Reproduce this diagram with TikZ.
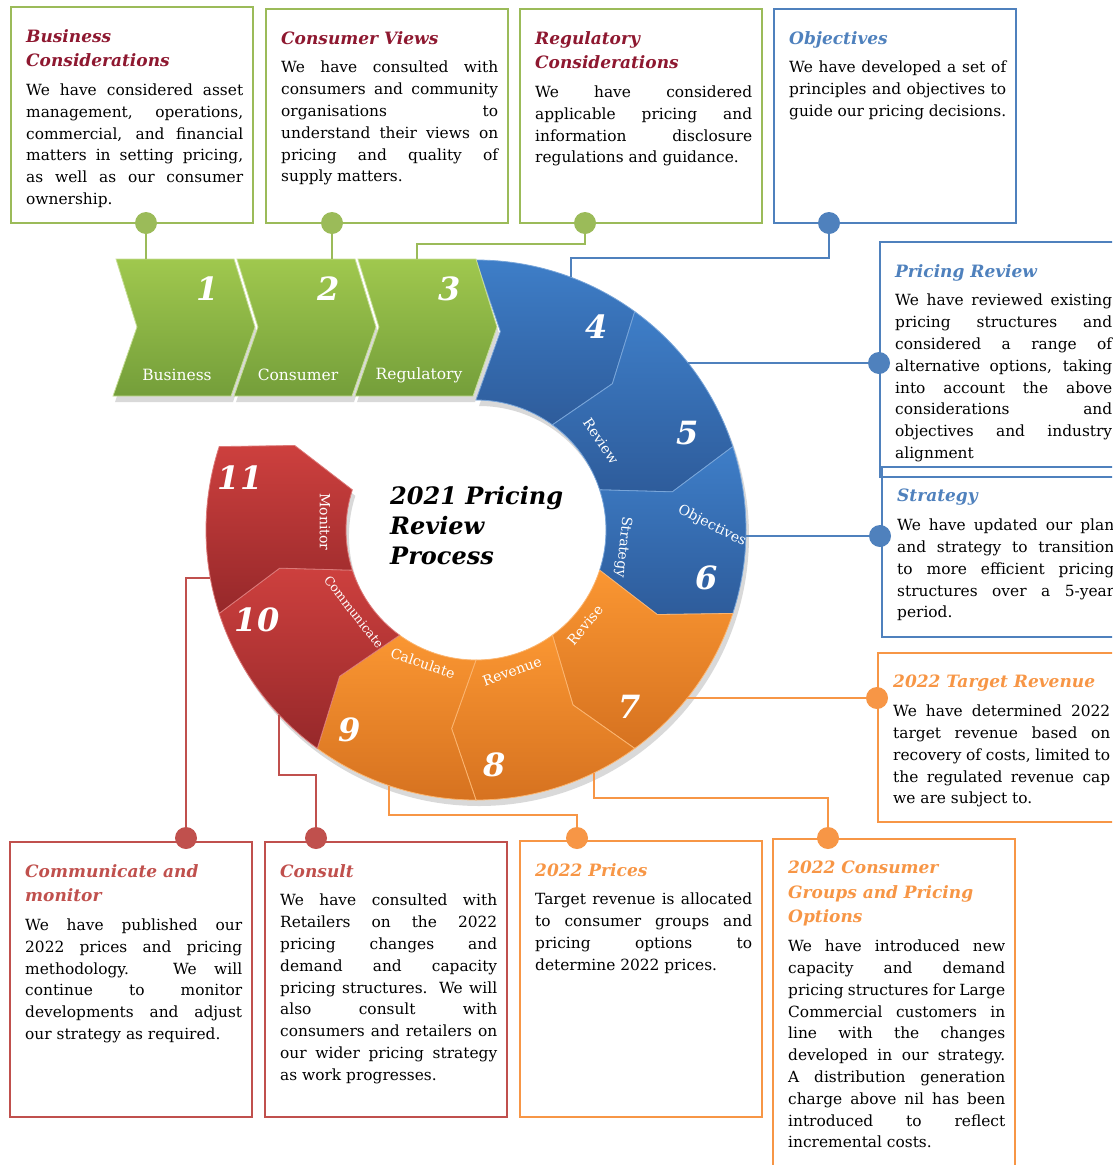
\documentclass[tikz,border=0pt]{standalone}
\usepackage{fontspec}
\setmainfont{DejaVu Serif}
\usepackage{tikz}
\usetikzlibrary{positioning,calc}

\definecolor{grnline}{RGB}{155,187,89}
\definecolor{bluline}{RGB}{79,129,189}
\definecolor{orgline}{RGB}{247,150,70}
\definecolor{redline}{RGB}{192,80,77}
\definecolor{hdred}{RGB}{142,24,48}
\definecolor{grntop}{RGB}{160,200,78}
\definecolor{grnbot}{RGB}{116,158,58}
\definecolor{blutop}{RGB}{62,126,200}
\definecolor{blubot}{RGB}{46,92,155}
\definecolor{orgtop}{RGB}{250,150,50}
\definecolor{orgbot}{RGB}{214,114,32}
\definecolor{redtop}{RGB}{205,64,62}
\definecolor{redbot}{RGB}{150,40,42}

\setlength{\parindent}{0pt}
\tolerance=10000 \hbadness=10000 \hyphenpenalty=10000
\newcommand{\bodyfont}{\fontsize{15.4}{21.8}\selectfont}
\newcommand{\headfont}{\fontsize{17}{24.5}\selectfont\bfseries\itshape}
\newcommand{\hd}[2]{{\headfont\color{#1}#2\par}\vspace{7pt}\bodyfont}

\begin{document}
\begin{tikzpicture}
  [
    x=1pt, y=-1pt,
    panel/.style   = {draw=#1, line width=2pt, anchor=north west, inner sep=0pt,
                      minimum width=242, minimum height=214},
    txt/.style     = {text width=217pt, align=justify, inner sep=0pt, font=\bodyfont},
    knob/.style    = {circle, fill=#1, minimum size=22pt, inner sep=0pt},
    wire/.style    = {draw=#1, line width=2pt},
    chevron/.style = {top color=grntop, bottom color=grnbot, draw=grntop!60!white, line width=.8pt},
    segment/.style = {line width=.8pt},
    num/.style     = {text=white, inner sep=0pt, font=\fontsize{32}{32}\selectfont\bfseries\itshape},
    chevlbl/.style = {text=white, inner sep=0pt, font=\fontsize{15.5}{15.5}\selectfont},
    seglbl/.style  = {text=white, inner sep=0pt, font=\fontsize{14}{14}\selectfont},
    title/.style   = {anchor=north west, align=left, inner sep=0pt,
                      font=\fontsize{24}{30}\selectfont\bfseries\itshape},
  ]

  \useasboundingbox (0,0) rectangle (1112,1165);
  \clip (0,0) rectangle (1112,1165);

  % the ring of steps 4 to 11
  \def\Ro{270} \def\Ri{130} \def\Rm{200} \def\tip{7}
  \begin{scope}[shift={(476,530)}]
    % soft shadow under the whole ring
    \fill[black, opacity=.15, shift={(3,6)}]
      (-90:\Ro) arc[start angle=-90, end angle=198, radius=\Ro]
      -- (205:\Rm) -- (198:\Ri)
      arc[start angle=198, end angle=-90, radius=\Ri]
      -- (-83:\Rm) -- cycle;
    \foreach \k/\ct/\cb in {4/blutop/blubot, 5/blutop/blubot, 6/blutop/blubot,
                           7/orgtop/orgbot, 8/orgtop/orgbot, 9/orgtop/orgbot,
                           10/redtop/redbot, 11/redtop/redbot}
    {
      \pgfmathsetmacro\angs{-90+36*(\k-4)}
      \pgfmathsetmacro\ange{\angs+36}
      \pgfmathsetmacro\angsp{\angs+\tip}
      \pgfmathsetmacro\angep{\ange+\tip}
      \draw[segment, top color=\ct, bottom color=\cb, draw=\ct!70!white]
        (\angs:\Ro) arc[start angle=\angs, end angle=\ange, radius=\Ro]
        -- (\angep:\Rm) -- (\ange:\Ri)
        arc[start angle=\ange, end angle=\angs, radius=\Ri]
        -- (\angsp:\Rm) -- cycle;
    }
  \end{scope}

  % chevrons for steps 1 to 3
  \foreach \n/\x/\lbl in {1/116/Business, 2/237/Consumer, 3/358/Regulatory}
  {
    \fill[black, opacity=.15] (\x+2,265) -- ++(118,0) -- ++(21,68) -- ++(-24,69)
      -- ++(-118,0) -- ++(24,-69) -- cycle;
    \draw[chevron] (\x,259) -- ++(118,0) -- ++(21,68) -- ++(-24,69)
      -- ++(-118,0) -- ++(24,-69) -- cycle;
    \node[num] (c\n num) at (\x+92,289) {\n};
    \node[chevlbl] (c\n lbl) at (\x+61,375) {\lbl};
  }

  % numbers and words on the ring
  \node[num] (n4) at (597,327) {4};
  \node[num] (n5) at (688,433) {5};
  \node[num] (n6) at (707,578) {6};
  \node[num] (n7) at (630,707) {7};
  \node[num] (n8) at (495,765) {8};
  \node[num] (n9) at (350,730) {9};
  \node[num] (n10) at (257,620) {10};
  \node[num] (n11) at (240,478) {11};
  \node[seglbl, rotate=-56] (l5) at (601,441) {Review};
  \node[seglbl, rotate=-27] (l6a) at (712,526) {Objectives};
  \node[seglbl, rotate=-96] (l6b) at (623,547) {Strategy};
  \node[seglbl, rotate=50] (l7) at (585,625) {Revise};
  \node[seglbl, rotate=20] (l8) at (512,671) {Revenue};
  \node[seglbl, rotate=-19] (l9) at (423,663) {Calculate};
  \node[seglbl, rotate=-52, font=\fontsize{12.5}{12.5}\selectfont] (l10) at (354,612) {Communicate};
  \node[seglbl, rotate=-90] (l11) at (325,522) {Monitor};

  \node[title] (ttl) at (390,486) {2021 Pricing\\Review\\Process};

  % where the connectors meet the chevrons and the ring
  \coordinate (c1top) at (146,259);
  \coordinate (c2top) at (332,259);
  \coordinate (c3top) at (417,259);
  \coordinate (s4top) at (571,277);
  \coordinate (s5pt) at (688,363);
  \coordinate (s6pt) at (745,536);
  \coordinate (s7pt) at (687,698);
  \coordinate (s8bt) at (594,773);
  \coordinate (s9bt) at (389,786);
  \coordinate (s10bt) at (279,715);
  \coordinate (s11pt) at (210,578);

  % top row boxes
  \node[panel=grnline, minimum height=216] (bizbox) at (10,6) {};
  \node[panel=grnline] (conbox) at (265,8) {};
  \node[panel=grnline] (regbox) at (519,8) {};
  \node[panel=bluline] (objbox) at (773,8) {};

  \node[txt] (biztxt) [below right=23pt and 16pt of bizbox.north west]
    {\hd{hdred}{Business\newline Considerations}We have considered asset\linebreak
     management, operations,\linebreak commercial, and financial\linebreak
     matters in setting pricing,\linebreak as well as our consumer\linebreak ownership.};
  \node[txt] (contxt) [below right=23pt and 16pt of conbox.north west]
    {\hd{hdred}{Consumer Views}We have consulted with\linebreak
     consumers and community\linebreak organisations to\linebreak
     understand their views on\linebreak pricing and quality of\linebreak supply matters.};
  \node[txt] (regtxt) [below right=23pt and 16pt of regbox.north west]
    {\hd{hdred}{Regulatory\newline Considerations}We have considered\linebreak
     applicable pricing and\linebreak information disclosure\linebreak
     regulations and guidance.};
  \node[txt] (objtxt) [below right=23pt and 16pt of objbox.north west]
    {\hd{bluline}{Objectives}We have developed a set of\linebreak
     principles and objectives to\linebreak guide our pricing decisions.};

  % right column boxes
  \node[panel=bluline, minimum height=235] (revbox) at (879,241) {};
  \node[panel=bluline, minimum height=170] (stratbox) at (881,466) {};
  \node[panel=orgline, minimum height=169] (tgtbox) at (877,652) {};

  \node[txt] (revtxt) [below right=23pt and 16pt of revbox.north west]
    {\hd{bluline}{Pricing Review}We have reviewed existing\linebreak
     pricing structures and\linebreak considered a range of\linebreak
     alternative options, taking\linebreak into account the above\linebreak
     considerations and\linebreak objectives and industry\linebreak alignment};
  \node[txt] (strattxt) [below right=23pt and 16pt of stratbox.north west]
    {\hd{bluline}{Strategy}We have updated our plan\linebreak
     and strategy to transition\linebreak to more efficient pricing\linebreak
     structures over a 5-year\linebreak period.};
  \node[txt] (tgttxt) [below right=23pt and 16pt of tgtbox.north west]
    {\hd{orgline}{2022 Target Revenue}We have determined 2022\linebreak
     target revenue based on\linebreak recovery of costs, limited to\linebreak
     the regulated revenue cap\linebreak we are subject to.};

  % bottom row boxes
  \node[panel=redline, minimum height=275] (combox) at (9,841) {};
  \node[panel=redline, minimum height=275] (cslbox) at (264,841) {};
  \node[panel=orgline, minimum height=276] (prcbox) at (519,840) {};
  \node[panel=orgline, minimum height=340] (grpbox) at (772,838) {};

  \node[txt] (comtxt) [below right=23pt and 16pt of combox.north west]
    {\hd{redline}{Communicate and\newline monitor}We have published our\linebreak
     2022 prices and pricing\linebreak methodology. We will\linebreak
     continue to monitor\linebreak developments and adjust\linebreak our strategy as required.};
  \node[txt] (csltxt) [below right=23pt and 16pt of cslbox.north west]
    {\hd{redline}{Consult}We have consulted with\linebreak
     Retailers on the 2022\linebreak pricing changes and\linebreak
     demand and capacity\linebreak pricing structures. We will\linebreak
     also consult with\linebreak consumers and retailers on\linebreak
     our wider pricing strategy\linebreak as work progresses.};
  \node[txt] (prctxt) [below right=23pt and 16pt of prcbox.north west]
    {\hd{orgline}{2022 Prices}Target revenue is allocated\linebreak
     to consumer groups and\linebreak pricing options to\linebreak determine 2022 prices.};
  \node[txt] (grptxt) [below right=23pt and 16pt of grpbox.north west]
    {\hd{orgline}{2022 Consumer\newline Groups and Pricing\newline Options}We have introduced new\linebreak
     capacity and demand\linebreak pricing structures for Large\linebreak
     Commercial customers in\linebreak line with the changes\linebreak
     developed in our strategy.\linebreak A distribution generation\linebreak
     charge above nil has been\linebreak introduced to reflect\linebreak incremental costs.};

  % connector knobs on the boxes
  \node[knob=grnline] (bizdot) at (146,223) {};
  \node[knob=grnline] (condot) at (332,223) {};
  \node[knob=grnline] (regdot) at (585,223) {};
  \node[knob=bluline] (objdot) at (829,223) {};
  \node[knob=bluline] (revdot) at (879,363) {};
  \node[knob=bluline] (stratdot) at (880,536) {};
  \node[knob=orgline] (tgtdot) at (877,698) {};
  \node[knob=redline] (comdot) at (186,838) {};
  \node[knob=redline] (csldot) at (316,838) {};
  \node[knob=orgline] (prcdot) at (577,838) {};
  \node[knob=orgline] (grpdot) at (828,838) {};

  % connectors
  \draw[wire=grnline] (bizdot) -- (c1top);
  \draw[wire=grnline] (condot) -- (c2top);
  \draw[wire=grnline] (regdot) -- ++(0,21) -| (c3top);
  \draw[wire=bluline] (objdot) -- ++(0,35) -| (s4top);
  \draw[wire=bluline] (s5pt) -- (revdot);
  \draw[wire=bluline] (s6pt) -- (stratdot);
  \draw[wire=orgline] (s7pt) -- (tgtdot);
  \draw[wire=orgline] (s8bt) -- ++(0,25) -| (grpdot);
  \draw[wire=orgline] (s9bt) -- ++(0,29) -| (prcdot);
  \draw[wire=redline] (s10bt) -- ++(0,60) -| (csldot);
  \draw[wire=redline] (s11pt) -| (comdot);
\end{tikzpicture}
\end{document}
